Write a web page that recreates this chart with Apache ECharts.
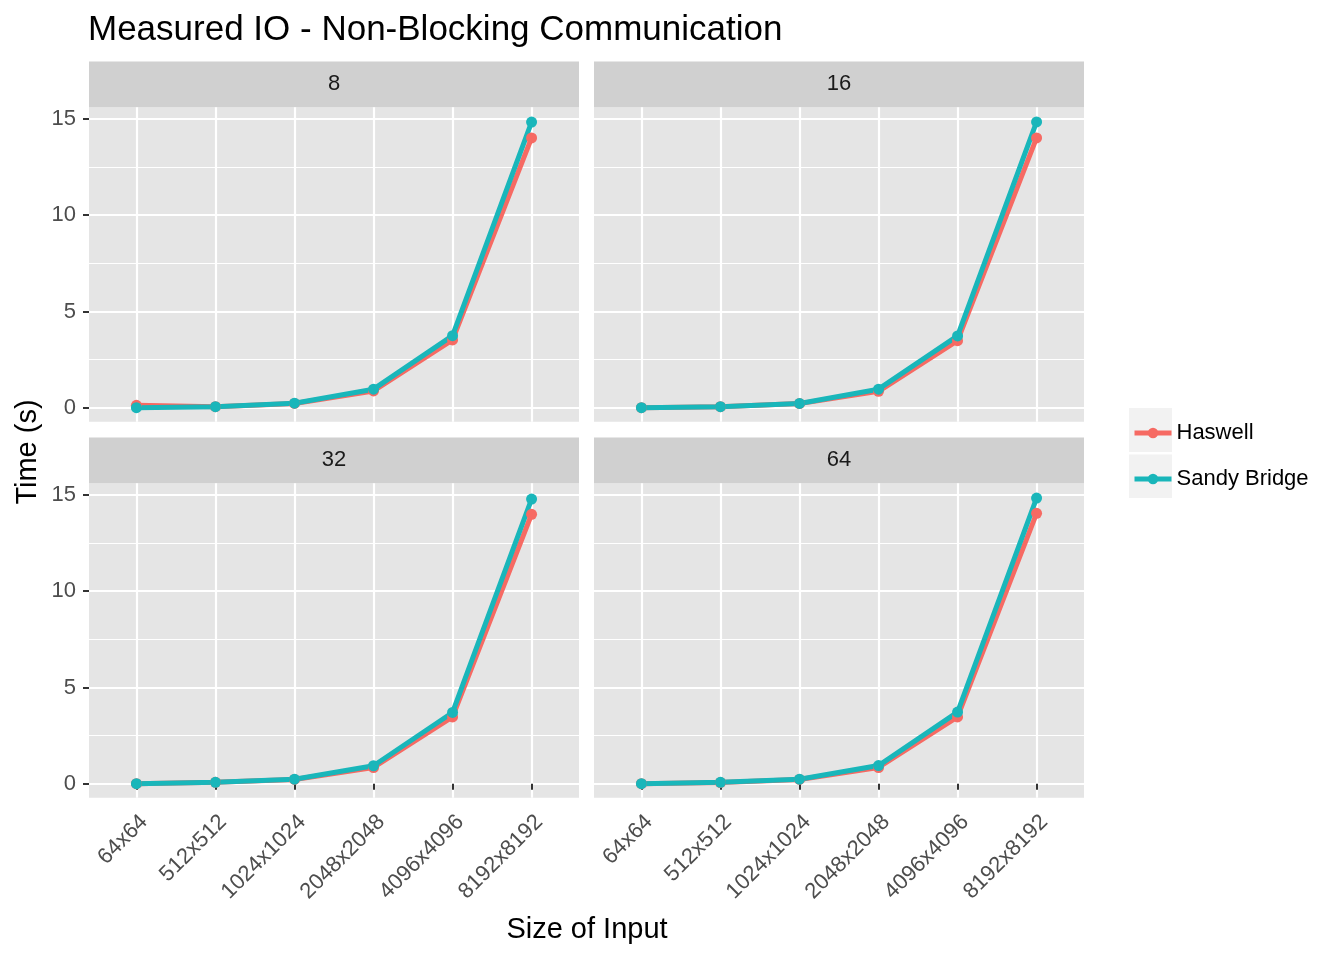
<!DOCTYPE html>
<html>
<head>
<meta charset="utf-8">
<script src="https://cdn.jsdelivr.net/npm/echarts@6/dist/echarts.min.js"></script>
<style>
html, body { margin: 0; padding: 0; background: #fff; }
#chart { width: 1344px; height: 960px; }
</style>
</head>
<body>
<div id="chart"></div>
<script>
// data
var categories = ['64x64', '512x512', '1024x1024', '2048x2048', '4096x4096', '8192x8192'];
var facets = ['8', '16', '32', '64'];
var yTicks = [0, 5, 10, 15];
var xTicks = [1, 2, 3, 4, 5, 6];

var haswell8  = [0.12, 0.05, 0.22, 0.87, 3.52, 14.02];
var sandy8    = [0.00, 0.05, 0.23, 0.96, 3.74, 14.84];
var haswell16 = [0.00, 0.05, 0.21, 0.85, 3.48, 14.02];
var sandy16   = [0.00, 0.05, 0.22, 0.96, 3.73, 14.85];
var haswell32 = [0.00, 0.07, 0.22, 0.84, 3.47, 14.00];
var sandy32   = [0.00, 0.07, 0.23, 0.93, 3.70, 14.79];
var haswell64 = [0.00, 0.06, 0.22, 0.84, 3.47, 14.05];
var sandy64   = [0.00, 0.07, 0.23, 0.94, 3.72, 14.84];

var haswellData = [haswell8, haswell16, haswell32, haswell64];
var sandyData = [sandy8, sandy16, sandy32, sandy64];

var red = '#F66A63';
var teal = '#19B6BA';
var font = '"Liberation Sans", Arial, Helvetica, sans-serif';

// panel layout (left, top of plotting area)
var panels = [
    { left: 89,  top: 107.3, showY: true,  showX: false },
    { left: 594, top: 107.3, showY: false, showX: false },
    { left: 89,  top: 483.3, showY: true,  showX: true },
    { left: 594, top: 483.3, showY: false, showX: true }
];
var panelW = 490, panelH = 314.4, stripH = 45.8;

var grids = [], xAxes = [], yAxes = [], series = [], graphics = [];

function toPoints(arr) {
    return arr.map(function (v, i) { return [i + 1, v]; });
}

panels.forEach(function (p, i) {
    grids.push({
        left: p.left, top: p.top, width: panelW, height: panelH,
        show: true, backgroundColor: '#e5e5e5', borderWidth: 0,
        outerBoundsMode: 'none'
    });
    xAxes.push({
        type: 'value', gridIndex: i, min: 0.4, max: 6.6,
        axisLine: { show: false },
        axisTick: { show: p.showX, customValues: xTicks, length: 6, lineStyle: { color: '#333333', width: 2 } },
        axisLabel: {
            show: p.showX, customValues: xTicks, rotate: 45, margin: 13, verticalAlign: 'top',
            fontSize: 22, color: '#4d4d4d', fontFamily: font,
            formatter: function (v) { return categories[Math.round(v) - 1] || ''; }
        },
        splitLine: { show: true, lineStyle: { color: '#ffffff', width: 2.2 } },
        minorSplitLine: { show: false }
    });
    yAxes.push({
        type: 'value', gridIndex: i, min: -0.73, max: 15.61, splitNumber: 3,
        axisLine: { show: false },
        axisTick: { show: p.showY, customValues: yTicks, length: 6, lineStyle: { color: '#333333', width: 2 } },
        axisLabel: {
            show: p.showY, customValues: yTicks, margin: 13,
            fontSize: 22, color: '#4d4d4d', fontFamily: font
        },
        splitLine: { show: true, lineStyle: { color: '#ffffff', width: 2.2 } },
        minorTick: { show: false, splitNumber: 2 },
        minorSplitLine: { show: true, lineStyle: { color: '#ffffff', width: 1.1 } }
    });
    series.push({
        name: 'Haswell', type: 'line', xAxisIndex: i, yAxisIndex: i,
        data: toPoints(haswellData[i]),
        symbol: 'circle', symbolSize: 11,
        lineStyle: { color: red, width: 5 }, itemStyle: { color: red },
        emphasis: { disabled: true }
    });
    series.push({
        name: 'Sandy Bridge', type: 'line', xAxisIndex: i, yAxisIndex: i,
        data: toPoints(sandyData[i]),
        symbol: 'circle', symbolSize: 11,
        lineStyle: { color: teal, width: 5 }, itemStyle: { color: teal },
        emphasis: { disabled: true }
    });
    // facet strip
    graphics.push({
        type: 'rect', shape: { x: p.left, y: p.top - stripH, width: panelW, height: stripH },
        style: { fill: '#d0d0d0' }, silent: true
    });
    graphics.push({
        type: 'text', x: p.left + panelW / 2, y: p.top - stripH / 2,
        style: { text: facets[i], fontSize: 22, fill: '#1a1a1a', fontFamily: font, align: 'center', verticalAlign: 'middle' },
        silent: true
    });
});

// legend key backgrounds
graphics.push({ type: 'rect', shape: { x: 1129, y: 408, width: 43, height: 44 }, style: { fill: '#f2f2f2' }, silent: true, z: -1 });
graphics.push({ type: 'rect', shape: { x: 1129, y: 454.5, width: 43, height: 43.5 }, style: { fill: '#f2f2f2' }, silent: true, z: -1 });

// axis titles
graphics.push({
    type: 'text', x: 28, y: 452, rotation: Math.PI / 2,
    style: { text: 'Time (s)', fontSize: 29, fill: '#000', fontFamily: font, align: 'center', verticalAlign: 'middle' },
    silent: true
});
graphics.push({
    type: 'text', x: 587, y: 930,
    style: { text: 'Size of Input', fontSize: 29, fill: '#000', fontFamily: font, align: 'center', verticalAlign: 'middle' },
    silent: true
});

var legendBase = {
    orient: 'vertical', left: 1132, padding: 0, itemWidth: 37, itemHeight: 13,
    lineStyle: { width: 5 },
    textStyle: { fontSize: 22, color: '#000', fontFamily: font },
    selectedMode: false
};

var chart = echarts.init(document.getElementById('chart'));
chart.setOption({
    animation: false,
    backgroundColor: '#ffffff',
    title: {
        text: 'Measured IO - Non-Blocking Communication',
        left: 83, top: 8,
        textStyle: { fontSize: 35, fontWeight: 'normal', color: '#000', fontFamily: font }
    },
    legend: [
        Object.assign({}, legendBase, { data: ['Haswell'], top: 422 }),
        Object.assign({}, legendBase, { data: ['Sandy Bridge'], top: 468 })
    ],
    grid: grids,
    xAxis: xAxes,
    yAxis: yAxes,
    series: series,
    graphic: graphics
});
</script>
</body>
</html>
